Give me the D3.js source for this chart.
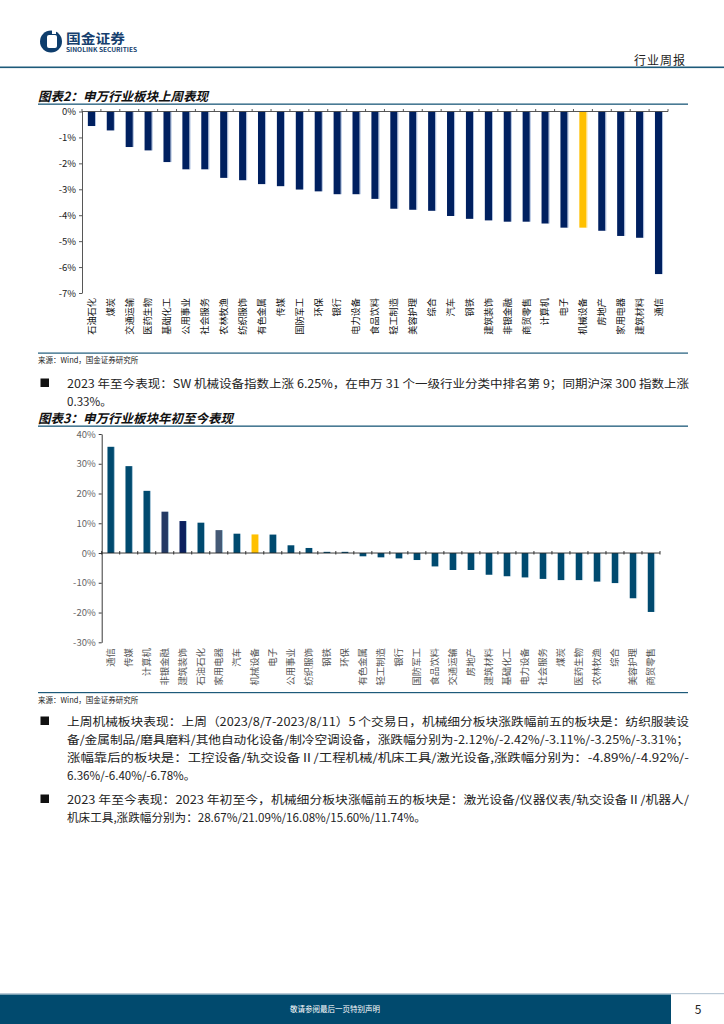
<!DOCTYPE html>
<html><head><meta charset="utf-8">
<script src="https://cdn.jsdelivr.net/npm/d3@7"></script>
<style>
html,body{margin:0;padding:0;background:#fff;}
svg{display:block;}
text{font-family:"Noto Sans CJK SC","Noto Sans",sans-serif;}
</style></head>
<body>
<svg id="page" width="724" height="1024"></svg>
<script>
// ---------- data ----------
const weekCategories = ["石油石化","煤炭","交通运输","医药生物","基础化工","公用事业","社会服务","农林牧渔","纺织服饰","有色金属","传媒","国防军工","环保","银行","电力设备","食品饮料","轻工制造","美容护理","综合","汽车","钢铁","建筑装饰","非银金融","商贸零售","计算机","电子","机械设备","房地产","家用电器","建筑材料","通信"];
const weekValues = [-0.56,-0.73,-1.37,-1.50,-1.95,-2.23,-2.23,-2.56,-2.65,-2.80,-2.88,-3.01,-3.08,-3.19,-3.19,-3.37,-3.75,-3.79,-3.83,-4.03,-4.14,-4.20,-4.25,-4.25,-4.32,-4.48,-4.48,-4.60,-4.80,-4.87,-6.27];
const weekTicks = [0,-1,-2,-3,-4,-5,-6,-7];

const ytdCategories = ["通信","传媒","计算机","非银金融","建筑装饰","石油石化","家用电器","汽车","机械设备","电子","公用事业","纺织服饰","钢铁","环保","有色金属","轻工制造","银行","国防军工","食品饮料","交通运输","房地产","建筑材料","基础化工","电力设备","社会服务","煤炭","医药生物","农林牧渔","综合","美容护理","商贸零售"];
const ytdValues = [35.7,29.2,20.9,13.9,10.75,10.2,7.7,6.5,6.25,6.2,2.6,1.7,0.4,0.4,-1.1,-1.45,-1.8,-2.35,-4.5,-5.7,-5.7,-7.3,-7.8,-8.2,-8.7,-9.1,-9.1,-9.6,-10.1,-15.2,-19.8];
const ytdTicks = [40,30,20,10,0,-10,-20,-30];

const highlight = "机械设备";

const para1 = ["2023 年至今表现：SW 机械设备指数上涨 6.25%，在申万 31 个一级行业分类中排名第 9；同期沪深 300 指数上涨","0.33%。"];
const para2 = ["上周机械板块表现：上周（2023/8/7-2023/8/11）5 个交易日，机械细分板块涨跌幅前五的板块是：纺织服装设","备/金属制品/磨具磨料/其他自动化设备/制冷空调设备，涨跌幅分别为-2.12%/-2.42%/-3.11%/-3.25%/-3.31%；","涨幅靠后的板块是：工控设备/轨交设备Ⅱ/工程机械/机床工具/激光设备,涨跌幅分别为：-4.89%/-4.92%/-","6.36%/-6.40%/-6.78%。"];
const para3 = ["2023 年至今表现：2023 年初至今，机械细分板块涨幅前五的板块是：激光设备/仪器仪表/轨交设备Ⅱ/机器人/","机床工具,涨跌幅分别为：28.67%/21.09%/16.08%/15.60%/11.74%。"];

// ---------- page ----------
const svg = d3.select("#page");
const BLUE = "#1d5a7a";

// logo
const logo = svg.append("g");
logo.append("circle").attr("cx",51).attr("cy",41.5).attr("r",11).attr("fill","#0e3d6c");
logo.append("rect").attr("x",47).attr("y",35).attr("width",10).attr("height",13).attr("rx",2).attr("fill","#fff");
logo.append("rect").attr("x",52).attr("y",29).attr("width",4).attr("height",5).attr("fill","#fff");
logo.append("text").attr("x",66).attr("y",43).attr("font-size",13).attr("font-weight",700).attr("fill","#163f6e").attr("textLength",59).attr("lengthAdjust","spacingAndGlyphs").text("国金证券");
logo.append("text").attr("x",66).attr("y",51.5).attr("font-size",5.6).attr("font-weight",700).attr("fill","#163f6e").attr("font-family","Liberation Sans").attr("textLength",71).attr("lengthAdjust","spacingAndGlyphs").text("SINOLINK SECURITIES");

svg.append("text").attr("x",686).attr("y",65).attr("text-anchor","end").attr("font-size",12).attr("fill","#222").attr("letter-spacing",1).text("行业周报");
svg.append("rect").attr("x",0).attr("y",66.5).attr("width",724).attr("height",1.6).attr("fill",BLUE);

function title(y, txt){
  svg.append("text").attr("x",38).attr("y",y).attr("font-size",12.5).attr("font-weight",700).attr("font-style","italic").attr("fill","#111").text(txt);
  svg.append("rect").attr("x",38).attr("y",y+2.5).attr("width",650).attr("height",1.3).attr("fill",BLUE);
}
function source(y){
  svg.append("rect").attr("x",38).attr("y",y-10.5).attr("width",650).attr("height",1.2).attr("fill",BLUE);
  svg.append("text").attr("x",38).attr("y",y).attr("font-size",7.5).attr("fill","#222").text("来源：Wind，国金证券研究所");
}
function para(y, lines, fullLines){
  svg.append("rect").attr("x",40.5).attr("y",y-9).attr("width",8.5).attr("height",8.5).attr("fill","#111");
  lines.forEach((l,i)=>{
    const t = svg.append("text").attr("x",67).attr("y",y+i*18).attr("font-size",11.6).attr("fill","#222").text(l);
    if(i < fullLines) t.attr("textLength",622).attr("lengthAdjust","spacingAndGlyphs");
  });
}

title(101,"图表2：申万行业板块上周表现");
source(363);
para(387.5, para1, 1);
title(423,"图表3：申万行业板块年初至今表现");
source(702.5);
para(725.5, para2, 3);
para(803.5, para3, 1);

// footer
svg.append("rect").attr("x",0).attr("y",993).attr("width",724).attr("height",1.2).attr("fill","#b9c9d6");
svg.append("rect").attr("x",0).attr("y",994.5).attr("width",671).attr("height",29.5).attr("fill","#014a6e");
svg.append("text").attr("x",335).attr("y",1012).attr("text-anchor","middle").attr("font-size",7.5).attr("fill","#fff").text("敬请参阅最后一页特别声明");
svg.append("text").attr("x",698).attr("y",1014).attr("text-anchor","middle").attr("font-size",12).attr("fill","#222").attr("font-family","Liberation Sans").text("5");

// ---------- chart 1 ----------
(function(){
  const g = svg.append("g");
  const x = d3.scaleBand().domain(weekCategories).range([82,668]).paddingInner(0.62).paddingOuter(0.31);
  const y = d3.scaleLinear().domain([0,-7]).range([111.5,293]);
  const yAxis = d3.axisLeft(y).tickValues(weekTicks).tickFormat(d=>d+"%").tickSize(3).tickSizeOuter(0);
  const ya = g.append("g").attr("transform","translate(82,0)").call(yAxis);
  ya.selectAll("path,line").attr("stroke","#444").attr("stroke-width",0.9);
  ya.selectAll("text").attr("font-family","Liberation Sans").attr("font-size",9.5).attr("fill","#222").attr("x",-6);
  g.selectAll("rect.bar").data(weekValues).join("rect").attr("class","bar")
    .attr("x",(d,i)=>x(weekCategories[i])).attr("width",x.bandwidth())
    .attr("y",y(0)).attr("height",d=>y(d)-y(0))
    .attr("fill",(d,i)=>weekCategories[i]===highlight?"#ffc000":"#002060");
  g.selectAll("rect.edge").data(weekValues).join("rect").attr("class","edge")
    .attr("x",(d,i)=>x(weekCategories[i])+x.bandwidth()).attr("width",0.9)
    .attr("y",y(0)).attr("height",d=>y(d)-y(0))
    .attr("fill",(d,i)=>weekCategories[i]===highlight?"#ffe08a":"#a9bcdc");
  g.append("line").attr("x1",82).attr("x2",668).attr("y1",y(0)).attr("y2",y(0)).attr("stroke","#444").attr("stroke-width",0.9);
  d3.range(weekCategories.length+1).forEach(i=>{
    const xx = 82 + i*x.step();
    g.append("line").attr("x1",xx).attr("x2",xx).attr("y1",y(0)-2.5).attr("y2",y(0)).attr("stroke","#444").attr("stroke-width",0.9);
  });
  g.selectAll("text.cat").data(weekCategories).join("text").attr("class","cat")
    .attr("transform",d=>`translate(${x(d)+x.bandwidth()/2+3.3},298) rotate(-90)`)
    .attr("text-anchor","end").attr("font-size",9.2).attr("fill","#111").text(d=>d);
})();

// ---------- chart 2 ----------
(function(){
  const g = svg.append("g");
  const x = d3.scaleBand().domain(ytdCategories).range([101.7,660]).paddingInner(0.64).paddingOuter(0.32);
  const y = d3.scaleLinear().domain([40,-30]).range([434,642.3]);
  const yAxis = d3.axisLeft(y).tickValues(ytdTicks).tickFormat(d=>d+"%").tickSize(3).tickSizeOuter(0);
  const ya = g.append("g").attr("transform","translate(101.7,0)").call(yAxis);
  ya.selectAll("path,line").attr("stroke","#222").attr("stroke-width",0.9);
  ya.selectAll("text").attr("font-family","Liberation Sans").attr("font-size",9.5).attr("fill","#666").attr("x",-6);
  const special = {"非银金融":"#243a64","建筑装饰":"#0b205e","家用电器":"#455a76","机械设备":"#ffc000"};
  g.selectAll("rect.bar").data(ytdValues).join("rect").attr("class","bar")
    .attr("x",(d,i)=>x(ytdCategories[i])).attr("width",x.bandwidth())
    .attr("y",d=>Math.min(y(d),y(0))).attr("height",d=>Math.abs(y(d)-y(0)))
    .attr("fill",(d,i)=>special[ytdCategories[i]]||"#004a6f");
  g.selectAll("rect.edge").data(ytdValues).join("rect").attr("class","edge")
    .attr("x",(d,i)=>x(ytdCategories[i])+x.bandwidth()).attr("width",0.9)
    .attr("y",d=>Math.min(y(d),y(0))).attr("height",d=>Math.abs(y(d)-y(0)))
    .attr("fill",(d,i)=>ytdCategories[i]===highlight?"#ffe08a":"#9fc0d4");
  g.append("line").attr("x1",101.7).attr("x2",660).attr("y1",y(0)).attr("y2",y(0)).attr("stroke","#222").attr("stroke-width",0.9);
  d3.range(ytdCategories.length+1).forEach(i=>{
    const xx = 101.7 + i*x.step();
    g.append("line").attr("x1",xx).attr("x2",xx).attr("y1",y(0)-2).attr("y2",y(0)+1.5).attr("stroke","#222").attr("stroke-width",0.9);
  });
  g.selectAll("text.cat").data(ytdCategories).join("text").attr("class","cat")
    .attr("transform",d=>`translate(${x(d)+x.bandwidth()/2+3.4},648) rotate(-90)`)
    .attr("text-anchor","end").attr("font-size",9.4).attr("fill","#555").text(d=>d);
})();
</script>
</body></html>
